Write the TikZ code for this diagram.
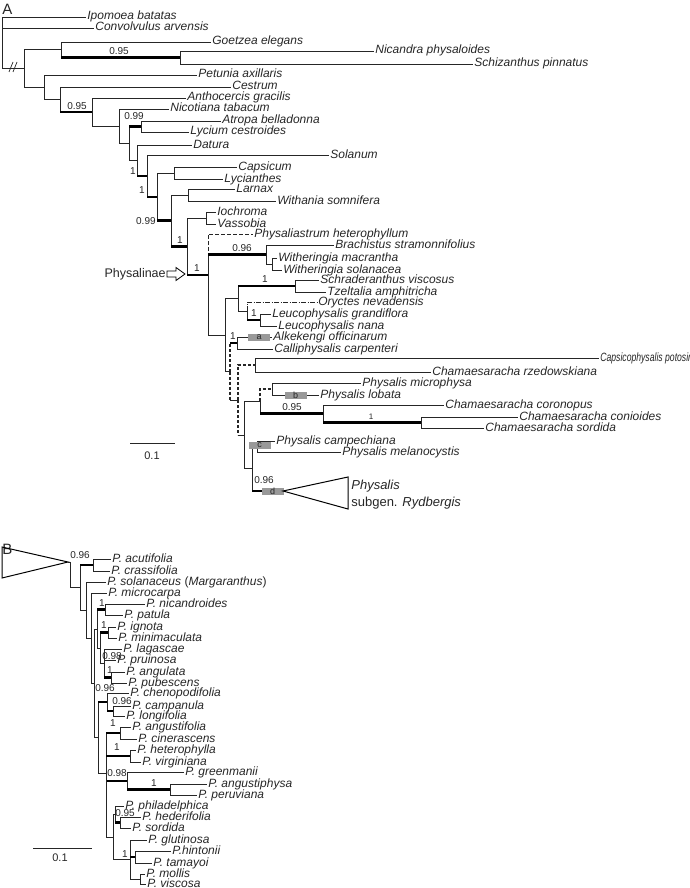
\documentclass[tikz,border=0pt]{standalone}
\usepackage{fontspec}
\setmainfont{Liberation Sans}
\begin{document}
\begin{tikzpicture}[x=1pt,y=-1pt,line width=0.7pt,color=black!85,
  thk/.style={line width=2.6pt,draw=black},
  leaf/.style={anchor=west,inner sep=1pt,text height=8.5pt,text depth=2.5pt,font=\fontsize{12}{12}\selectfont\itshape},
  sup/.style={inner sep=0pt,font=\fontsize{10}{10}\selectfont},
  bx/.style={fill=black!40,draw=none,inner sep=0pt,minimum width=22pt,minimum height=7pt,font=\fontsize{9}{9}\selectfont},
  dsh/.style={dash pattern=on 4pt off 2pt},
  bdsh/.style={line width=1.3pt,dash pattern=on 3pt off 2pt},
  ddot/.style={dash pattern=on 5pt off 1.5pt on 1pt off 1.5pt}]
\useasboundingbox (0,0) rectangle (690,888);
\newcommand\br[3][thk]{\draw (#2) |- (#3); \draw[#1] (#2 |- #3) -- (#3);}
\newcommand\lf[2]{\draw (#1) |- (#2.west);}
\node[anchor=west,inner sep=0pt,font=\fontsize{15}{15}\selectfont] (labA) at (2,9) {A};
\node[anchor=west,inner sep=0pt,font=\fontsize{15}{15}\selectfont] (labB) at (2,549) {B};
% ---------------- Tree A coordinates
\coordinate (r0) at (2,42);
\coordinate (n1) at (24,68.4);
\coordinate (g1) at (61,49.75);
\coordinate (g2) at (180,57.5);
\coordinate (n2) at (44,87);
\coordinate (n3) at (60,99.5);
\coordinate (n4) at (92,112);
\coordinate (n5) at (119,126);
\coordinate (n6) at (129,143.5);
\coordinate (a1) at (141,126.5);
\coordinate (n7) at (137,160.5);
\coordinate (n8) at (147,176);
\coordinate (n9) at (157,197);
\coordinate (c1) at (174,173);
\coordinate (n10) at (171,220.75);
\coordinate (w1) at (188,195);
\coordinate (p0) at (187,246.5);
\coordinate (i1) at (206,218);
\coordinate (ph) at (208,275);
\coordinate (brn) at (266,254.5);
\coordinate (wi) at (272,264);
\coordinate (y0) at (225,335);
\coordinate (s0) at (238,298.5);
\coordinate (s1) at (295,286);
\coordinate (o1) at (247,311);
\coordinate (l1) at (260,320);
\coordinate (z0) at (230,371.5);
\coordinate (ak) at (237,343);
\coordinate (z1) at (238,400);
\coordinate (rz) at (255,365);
\coordinate (q1) at (244,435);
\coordinate (mc) at (260,401.4);
\coordinate (mp) at (272,389);
\coordinate (ch1) at (323,413.75);
\coordinate (ch2) at (421,422.5);
\coordinate (cq) at (252,468.75);
\coordinate (cm) at (257,446.5);
\coordinate (ry) at (262,491);
% ---------------- leaves A
\node[leaf] (ipo) at (86,17) {Ipomoea batatas};
\node[leaf] (con) at (94,28) {Convolvulus arvensis};
\node[leaf] (goe) at (211,42) {Goetzea elegans};
\node[leaf] (nic) at (374,51) {Nicandra physaloides};
\node[leaf] (sch) at (473,64) {Schizanthus pinnatus};
\node[leaf] (pet) at (197,75) {Petunia axillaris};
\node[leaf] (ces) at (231,87) {Cestrum};
\node[leaf] (ant) at (186,98) {Anthocercis gracilis};
\node[leaf] (nct) at (169,109) {Nicotiana tabacum};
\node[leaf] (atr) at (221,121) {Atropa belladonna};
\node[leaf] (lyc) at (189,132) {Lycium cestroides};
\node[leaf] (dat) at (192,145) {Datura};
\node[leaf] (sol) at (329,155) {Solanum};
\node[leaf] (cap) at (237,167) {Capsicum};
\node[leaf] (lyn) at (223,179) {Lycianthes};
\node[leaf] (lar) at (235,189) {Larnax};
\node[leaf] (wit) at (276,201) {Withania somnifera};
\node[leaf] (ioc) at (216,212) {Iochroma};
\node[leaf] (vas) at (216,224) {Vassobia};
\node[leaf] (pha) at (253,234) {Physaliastrum heterophyllum};
\node[leaf] (bra) at (334,245) {Brachistus stramonnifolius};
\node[leaf] (wma) at (277,258) {Witheringia macrantha};
\node[leaf] (wso) at (282,270) {Witheringia solanacea};
\node[leaf] (scv) at (319,280) {Schraderanthus viscosus};
\node[leaf] (tze) at (326,292) {Tzeltalia amphitricha};
\node[leaf] (ory) at (317,302) {Oryctes nevadensis};
\node[leaf] (lgr) at (271,314) {Leucophysalis grandiflora};
\node[leaf] (lna) at (277,326) {Leucophysalis nana};
\node[leaf] (alk) at (272,337) {Alkekengi officinarum};
\node[leaf] (cal) at (273,349) {Calliphysalis carpenteri};
\node[leaf] (cpo) at (599,358) {\scalebox{0.72}[1]{Capsicophysalis potosina}};
\node[leaf] (crz) at (431,372) {Chamaesaracha rzedowskiana};
\node[leaf] (pmi) at (361,383) {Physalis microphysa};
\node[leaf] (plo) at (319,395) {Physalis lobata};
\node[leaf] (cco) at (444,405) {Chamaesaracha coronopus};
\node[leaf] (ccn) at (518,417) {Chamaesaracha conioides};
\node[leaf] (cso) at (484,428) {Chamaesaracha sordida};
\node[leaf] (pca) at (275,441) {Physalis campechiana};
\node[leaf] (pme) at (341,452) {Physalis melanocystis};
% ---------------- branches A
\lf{r0}{ipo} \lf{r0}{con}
\draw (r0) |- (n1);
\draw (9,72) -- (13,62) (13,72) -- (17,62);
\br[]{n1}{g1} \br[]{n1}{n2}
\lf{g1}{goe} \br{g1}{g2} \lf{g2}{nic} \lf{g2}{sch}
\lf{n2}{pet} \br[]{n2}{n3}
\lf{n3}{ces} \br{n3}{n4}
\lf{n4}{ant} \br[]{n4}{n5}
\lf{n5}{nct} \br[]{n5}{n6}
\br{n6}{a1} \lf{a1}{atr} \lf{a1}{lyc}
\br[]{n6}{n7} \lf{n7}{dat} \br{n7}{n8}
\lf{n8}{sol} \br{n8}{n9}
\br[]{n9}{c1} \lf{c1}{cap} \lf{c1}{lyn}
\br{n9}{n10}
\br[]{n10}{w1} \lf{w1}{lar} \lf{w1}{wit}
\br{n10}{p0}
\br[]{p0}{i1} \lf{i1}{ioc} \lf{i1}{vas}
\br{p0}{ph}
\draw[dsh] (ph) |- (pha.west);
\br{ph}{brn} \lf{brn}{bra} \br[]{brn}{wi} \lf{wi}{wma} \lf{wi}{wso}
\br[]{ph}{y0}
\br[]{y0}{s0}
\br{s0}{s1} \lf{s1}{scv} \lf{s1}{tze}
\br[]{s0}{o1}
\draw[ddot] (o1) |- (ory.west);
\br{o1}{l1} \lf{l1}{lgr} \lf{l1}{lna}
\br[]{y0}{z0}
\draw[bdsh] (z0) -- (z0 |- ak); \draw[thk] (z0 |- ak) -- (ak);
\lf{ak}{alk} \lf{ak}{cal}
\draw[bdsh] (z0) -- (z0 |- z1); \draw (z0 |- z1) -- (z1);
\draw[bdsh] (z1) |- (rz);
\draw (rz) |- (cpo.west); \draw (rz) |- (crz.west);
\draw[bdsh] (z1) -- (z1 |- q1); \draw (z1 |- q1) -- (q1);
\br[]{q1}{mc}
\draw[bdsh] (mc) |- (mp);
\lf{mp}{pmi} \lf{mp}{plo}
\br{mc}{ch1} \lf{ch1}{cco} \br{ch1}{ch2} \lf{ch2}{ccn} \lf{ch2}{cso}
\br[]{q1}{cq}
\br[]{cq}{cm} \lf{cm}{pca} \lf{cm}{pme}
\br{cq}{ry}
\node[bx] (ba) at (259,337.5) {a};
\node[bx] (bb) at (295.5,395.5) {b};
\node[bx] (bc) at (259.5,445) {c};
\node[bx] (bd) at (272.5,491) {d};
\draw[line width=1pt,draw=black] (283,491) -- (348,477) -- (348,509) -- cycle;
\node[leaf,font=\fontsize{13}{13}\selectfont\itshape] (ryd1) at (350,486) {Physalis};
\node[leaf,font=\fontsize{13}{13}\selectfont] (ryd2) at (350,503) {subgen. \textit{Rydbergis}};
% support A
\node[sup] (sA1) at (119,51) {0.95};
\node[sup] (sA2) at (77,106) {0.95};
\node[sup] (sA3) at (134,116) {0.99};
\node[sup] (sA4) at (133,171) {1};
\node[sup] (sA5) at (142,190) {1};
\node[sup,anchor=east] (sA6) at (156,221) {0.99};
\node[sup] (sA7) at (180,240) {1};
\node[sup] (sA8) at (197,268) {1};
\node[sup] (sA9) at (242,248) {0.96};
\node[sup] (sA10) at (265,279) {1};
\node[sup] (sA11) at (254,313) {1};
\node[sup] (sA12) at (233,336) {1};
\node[sup] (sA13) at (292,407) {0.95};
\node[sup,font=\fontsize{8}{8}\selectfont] (sA14) at (371,417) {1};
\node[sup] (sA15) at (264,480) {0.96};
\node[anchor=east,inner sep=0pt,font=\fontsize{12.5}{13}\selectfont] (phy) at (166,274) {Physalinae};
\draw[line width=0.8pt,draw=black] (167,271) -- (176,271) -- (176,267.5) -- (185,274) -- (176,280.5) -- (176,277) -- (167,277) -- cycle;
% scale A
\coordinate (scA1) at (130,443); \coordinate (scA2) at (175,443);
\draw[line width=0.9pt] (scA1) -- (scA2);
\node[sup,font=\fontsize{11}{11}\selectfont] (scAt) at (152,456) {0.1};
% ---------------- Tree B
\coordinate (B1) at (80,587.5);
\coordinate (bt) at (93,565);
\coordinate (B2) at (86,610);
\coordinate (B3) at (91,638);
\coordinate (B4) at (94,683);
\coordinate (NG) at (97,629);
\coordinate (nc) at (105,609.5);
\coordinate (IG) at (100,648);
\coordinate (ig) at (108,632.5);
\coordinate (L) at (104,663);
\coordinate (an) at (111,677.5);
\coordinate (BG) at (98,737.5);
\coordinate (C) at (107,702);
\coordinate (cl) at (113,711);
\coordinate (D) at (106,773);
\coordinate (ag) at (120,733);
\coordinate (he) at (130,756);
\coordinate (gr) at (127,781);
\coordinate (ap) at (170,789.5);
\coordinate (PG) at (113,837);
\coordinate (P) at (115,814);
\coordinate (hs) at (120,822.5);
\coordinate (G) at (130,859.5);
\coordinate (ht) at (135,857);
\coordinate (mv) at (140,879);
\draw[line width=1pt,draw=black] (2,547) -- (68,562) -- (2,578) -- cycle;
\coordinate (apx) at (68,562);
\draw (apx) -- (70,562) |- (B1);
\node[leaf] (acu) at (111,559) {P. acutifolia};
\node[leaf] (cra) at (110,571) {P. crassifolia};
\node[leaf] (sla) at (106,582) {P. solanaceus \textup{(}Margaranthus\textup{)}};
\node[leaf] (mic) at (107,593) {P. microcarpa};
\node[leaf] (nca) at (145,604) {P. nicandroides};
\node[leaf] (pat) at (123,615) {P. patula};
\node[leaf] (ign) at (116,627) {P. ignota};
\node[leaf] (mim) at (117,638) {P. minimaculata};
\node[leaf] (lag) at (122,649) {P. lagascae};
\node[leaf] (pru) at (116,660) {P. pruinosa};
\node[leaf] (ang) at (125,672) {P. angulata};
\node[leaf] (pub) at (127,683) {P. pubescens};
\node[leaf] (che) at (129,693) {P. chenopodifolia};
\node[leaf] (cmp) at (131,706) {P. campanula};
\node[leaf] (lon) at (125,716) {P. longifolia};
\node[leaf] (agu) at (131,727) {P. angustifolia};
\node[leaf] (cin) at (137,739) {P. cinerascens};
\node[leaf] (het) at (136,750) {P. heterophylla};
\node[leaf] (vir) at (141,762) {P. virginiana};
\node[leaf] (gre) at (184,772) {P. greenmanii};
\node[leaf] (agp) at (207,784) {P. angustiphysa};
\node[leaf] (per) at (197,795) {P. peruviana};
\node[leaf] (phi) at (124,806) {P. philadelphica};
\node[leaf] (hed) at (141,817) {P. hederifolia};
\node[leaf] (sor) at (131,828) {P. sordida};
\node[leaf] (glu) at (147,840) {P. glutinosa};
\node[leaf] (hin) at (171,851) {P.hintonii};
\node[leaf] (tam) at (152,863) {P. tamayoi};
\node[leaf] (mol) at (145,874) {P. mollis};
\node[leaf] (vis) at (146,884) {P. viscosa};
\br{B1}{bt} \lf{bt}{acu} \lf{bt}{cra}
\br[]{B1}{B2} \lf{B2}{sla} \br[]{B2}{B3}
\lf{B3}{mic} \br[]{B3}{B4}
\br[]{B4}{NG} \br{NG}{nc} \lf{nc}{nca} \lf{nc}{pat}
\br[]{NG}{IG} \br{IG}{ig} \lf{ig}{ign} \lf{ig}{mim}
\br[]{IG}{L} \lf{L}{lag} \lf{L}{pru} \br{L}{an} \lf{an}{ang} \lf{an}{pub}
\br[]{B4}{BG} \br{BG}{C} \lf{C}{che} \br{C}{cl} \lf{cl}{cmp} \lf{cl}{lon}
\br[]{BG}{D}
\br{D}{ag} \lf{ag}{agu} \lf{ag}{cin}
\br{D}{he} \lf{he}{het} \lf{he}{vir}
\br{D}{gr} \lf{gr}{gre} \br{gr}{ap} \lf{ap}{agp} \lf{ap}{per}
\br[]{D}{PG}
\br[]{PG}{P} \lf{P}{phi} \br{P}{hs} \lf{hs}{hed} \lf{hs}{sor}
\br[]{PG}{G} \lf{G}{glu} \br{G}{ht} \lf{ht}{hin} \lf{ht}{tam}
\br[]{G}{mv} \lf{mv}{mol} \lf{mv}{vis}
% support B
\node[sup] (sB1) at (80,555) {0.96};
\node[sup] (sB2) at (102,603) {1};
\node[sup] (sB3) at (104,625) {1};
\node[sup] (sB4) at (112,656) {0.98};
\node[sup] (sB5) at (110,670) {1};
\node[sup] (sB6) at (105,688) {0.96};
\node[sup] (sB7) at (122,701) {0.96};
\node[sup] (sB8) at (113,723) {1};
\node[sup] (sB9) at (117,747) {1};
\node[sup] (sB10) at (117,773) {0.98};
\node[sup] (sB11) at (154,783) {1};
\node[sup] (sB12) at (125,813) {0.95};
\node[sup] (sB13) at (125,854) {1};
\coordinate (scB1) at (33,848); \coordinate (scB2) at (92,848);
\draw[line width=0.9pt] (scB1) -- (scB2);
\node[sup,font=\fontsize{11}{11}\selectfont] (scBt) at (60,858) {0.1};
\end{tikzpicture}
\end{document}
